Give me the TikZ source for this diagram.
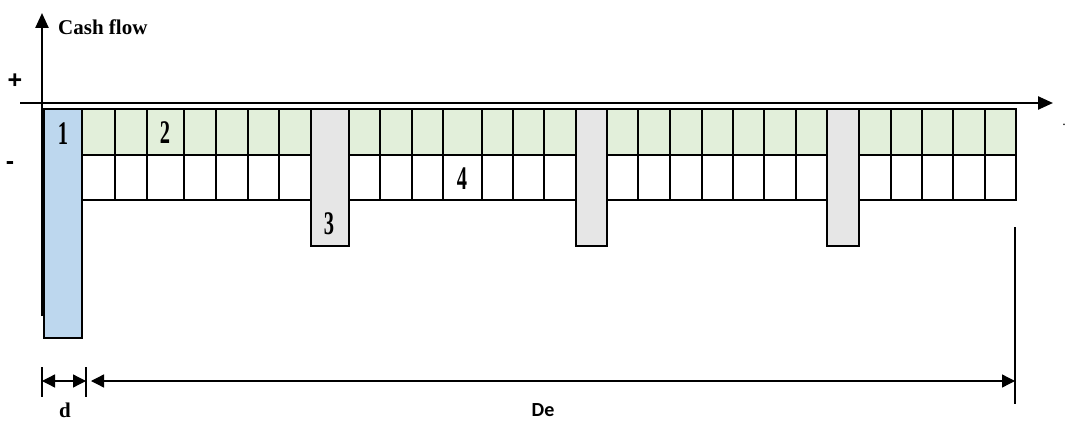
\documentclass[tikz,border=0pt]{standalone}
\usepackage{graphicx}
\usepackage{fontspec}
\setmainfont{Liberation Serif}
\newfontfamily\arialfont{Liberation Sans}
\newfontfamily\calfont{Carlito}
\usepackage{tikz}
\usetikzlibrary{arrows.meta}
\definecolor{barblue}{RGB}{189,215,238}
\definecolor{rowgreen}{RGB}{226,239,218}
\definecolor{colgray}{RGB}{230,230,230}
\newcommand\tallnum[1]{\scalebox{0.62}[1]{#1}}

\begin{document}
\begin{tikzpicture}[x=1pt,y=-1pt,
grid/.style={line width=2.8pt,line join=miter},
axis/.style={line width=2.4pt,-{Triangle[length=15pt,width=13pt]}},
dimline/.style={line width=1.3pt,{Triangle[length=13pt,width=13pt]}-{Triangle[length=13pt,width=13pt]}},
tick/.style={line width=1.3pt},
num/.style={inner sep=0pt,font=\fontsize{33}{33}\selectfont\bfseries},
sign/.style={inner sep=0pt,font=\arialfont\fontsize{25}{25}\selectfont\bfseries}]
\useasboundingbox (0,0) rectangle (1066,428);

% payment table
\fill[rowgreen] (82,109) rectangle (1016,155);
\foreach \x in {115,147,184,216,248,279,311,349,380,412,443,482,513,544,
  576,607,638,670,702,733,764,796,827,859,891,922,953,985}
  \draw[grid] (\x,109) -- (\x,200);
\draw[grid] (82,155) -- (1016,155);
\draw[grid] (44,109) -- (1016,109) -- (1016,200) -- (82,200);
\foreach \a/\b in {311/349,576/607,827/859}
  \filldraw[grid,fill=colgray] (\a,109) rectangle (\b,246);
\filldraw[grid,fill=barblue] (44,109) rectangle (82,338);

% axes
\coordinate (ybot) at (42,316);
\coordinate (ytop) at (42,13);
\coordinate (xleft) at (20,103);
\coordinate (xright) at (1053,103);
\draw[axis] (ybot) -- (ytop);
\draw[axis] (xleft) -- (xright);

% durations
\coordinate (d0t) at (42,367);  \coordinate (d0b) at (42,397);
\coordinate (d1t) at (86,367);  \coordinate (d1b) at (86,397);
\coordinate (e1t) at (1015,227); \coordinate (e1b) at (1015,404);
\draw[tick] (d0t) -- (d0b);
\draw[tick] (d1t) -- (d1b);
\draw[tick] (e1t) -- (e1b);
\coordinate (da) at (42,381);  \coordinate (db) at (86,381);
\coordinate (ea) at (91,381);  \coordinate (eb) at (1015,381);
\draw[dimline] (da) -- (db);
\draw[dimline] (ea) -- (eb);

% labels
\node[inner sep=0pt,anchor=base west,font=\fontsize{21}{21}\selectfont\bfseries] (cashflow) at (58,35) {Cash flow};
\node[sign] (plus) at (15,81) {+};
\node[sign] (minus) at (10,166) {-};
\node[num] (one) at (63,134) {\tallnum{1}};
\node[num] (two) at (165,133) {\tallnum{2}};
\node[num] (three) at (329,224) {\tallnum{3}};
\node[num] (four) at (462,179) {\tallnum{4}};
\node[inner sep=0pt,font=\fontsize{21}{21}\selectfont\bfseries] (dlab) at (65,410) {d};
\node[inner sep=0pt,font=\calfont\fontsize{20}{20}\selectfont\bfseries] (delab) at (543,410) {De};
\node[inner sep=0pt,anchor=base,font=\fontsize{14}{14}\selectfont] (dot) at (1064,125) {.};
\end{tikzpicture}
\end{document}
